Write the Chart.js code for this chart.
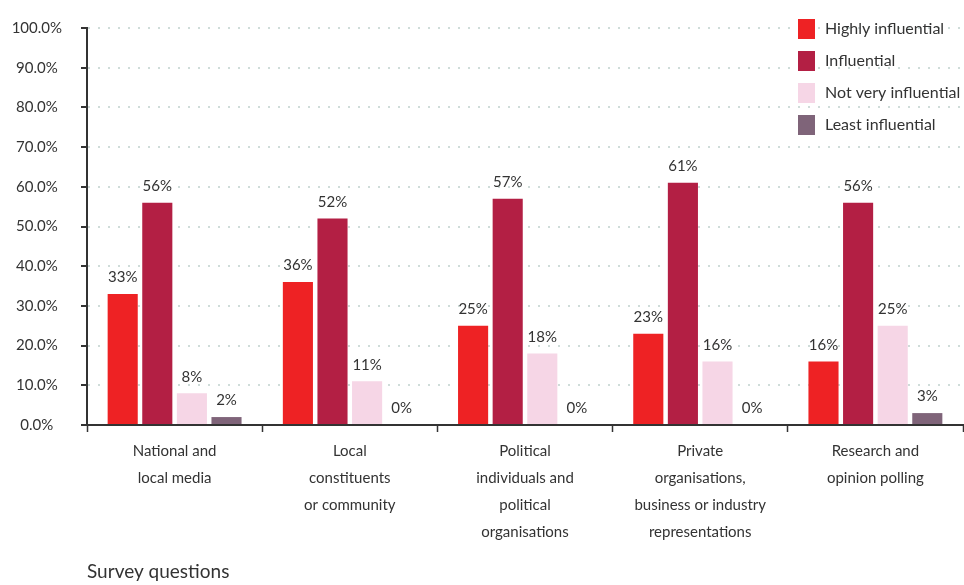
<!DOCTYPE html>
<html>
<head>
<meta charset="utf-8">
<script src="https://cdn.jsdelivr.net/npm/chart.js@4/dist/chart.umd.min.js"></script>
<style>
  body { margin: 0; background: #fff; }
  #wrap { width: 964px; height: 585px; }
</style>
</head>
<body>
<div id="wrap"><canvas id="chart" width="964" height="585"></canvas></div>
<script>
'use strict';

// ------------------------------- Data ------------------------------//
const categories = [
  ['National and', 'local media'],
  ['Local', 'constituents', 'or community'],
  ['Political', 'individuals and', 'political', 'organisations'],
  ['Private', 'organisations,', 'business or industry', 'representations'],
  ['Research and', 'opinion polling']
];
const highlyInfluential = [33, 36, 25, 23, 16];
const influential = [56, 52, 57, 61, 56];
const notVeryInfluential = [8, 11, 18, 16, 25];
const leastInfluential = [2, 0, 0, 0, 3];
const seriesNames = ['Highly influential', 'Influential', 'Not very influential', 'Least influential'];
const seriesColors = ['#ee2224', '#b31f44', '#f6d6e6', '#7f6479'];

const fontFamily = 'Lato, "Liberation Sans", sans-serif';
const textColor = '#333333';

// ------------------------------- Plugins ------------------------------//
const valueLabels = {
  id: 'valueLabels',
  afterDatasetsDraw(chart) {
    const ctx = chart.ctx;
    ctx.save();
    ctx.font = '15px ' + fontFamily;
    ctx.fillStyle = textColor;
    ctx.textAlign = 'center';
    ctx.textBaseline = 'bottom';
    chart.data.datasets.forEach((ds, i) => {
      const meta = chart.getDatasetMeta(i);
      meta.data.forEach((bar, j) => {
        ctx.fillText(ds.data[j] + '%', bar.x, bar.y - 9);
      });
    });
    ctx.restore();
  }
};

const cornerLegend = {
  id: 'cornerLegend',
  afterDraw(chart) {
    const ctx = chart.ctx;
    ctx.save();
    ctx.font = '16px ' + fontFamily;
    ctx.textBaseline = 'middle';
    chart.data.datasets.forEach((ds, i) => {
      const y = 29 + i * 32;
      ctx.fillStyle = ds.backgroundColor;
      ctx.fillRect(798, y - 10, 17, 20);
      ctx.fillStyle = textColor;
      ctx.fillText(ds.label, 825, y);
    });
    ctx.restore();
  }
};

// ------------------------------- Chart ------------------------------//
const seriesData = [highlyInfluential, influential, notVeryInfluential, leastInfluential];

const ctx = document.getElementById('chart').getContext('2d');
new Chart(ctx, {
  type: 'bar',
  data: {
    labels: categories,
    datasets: seriesData.map((data, i) => ({
      label: seriesNames[i],
      data: data,
      backgroundColor: seriesColors[i],
      categoryPercentage: 0.79,
      barPercentage: 0.87
    }))
  },
  options: {
    responsive: false,
    animation: false,
    layout: { padding: { top: 10, right: 1, left: 0, bottom: 0 } },
    plugins: {
      legend: { display: false },
      tooltip: { enabled: false }
    },
    scales: {
      x: {
        grid: {
          drawOnChartArea: false,
          tickLength: 7,
          tickColor: '#333',
          tickWidth: 1.5
        },
        border: { color: '#333', width: 2 },
        ticks: {
          color: textColor,
          font: { family: fontFamily, size: 15, lineHeight: 1.8 },
          padding: 6,
          maxRotation: 0
        },
        title: {
          display: true,
          text: 'Survey questions',
          align: 'start',
          color: textColor,
          font: { family: fontFamily, size: 19 },
          padding: { top: 0, bottom: 2 }
        },
        afterFit(scale) { scale.height = 160; }
      },
      y: {
        min: 0,
        max: 100,
        ticks: {
          stepSize: 10,
          color: textColor,
          crossAlign: 'center',
          padding: 19,
          font: { family: fontFamily, size: 15 },
          callback: (v) => v.toFixed(1) + '%'
        },
        grid: {
          color: '#cfdcd9',
          lineWidth: 2,
          tickLength: 6,
          tickColor: '#333',
          tickWidth: 2,
          tickBorderDash: [1, 0]
        },
        border: { color: '#333', width: 2, dash: [2, 8] },
        afterFit(scale) { scale.width = 87; }
      }
    }
  },
  plugins: [valueLabels, cornerLegend]
});
</script>
</body>
</html>
